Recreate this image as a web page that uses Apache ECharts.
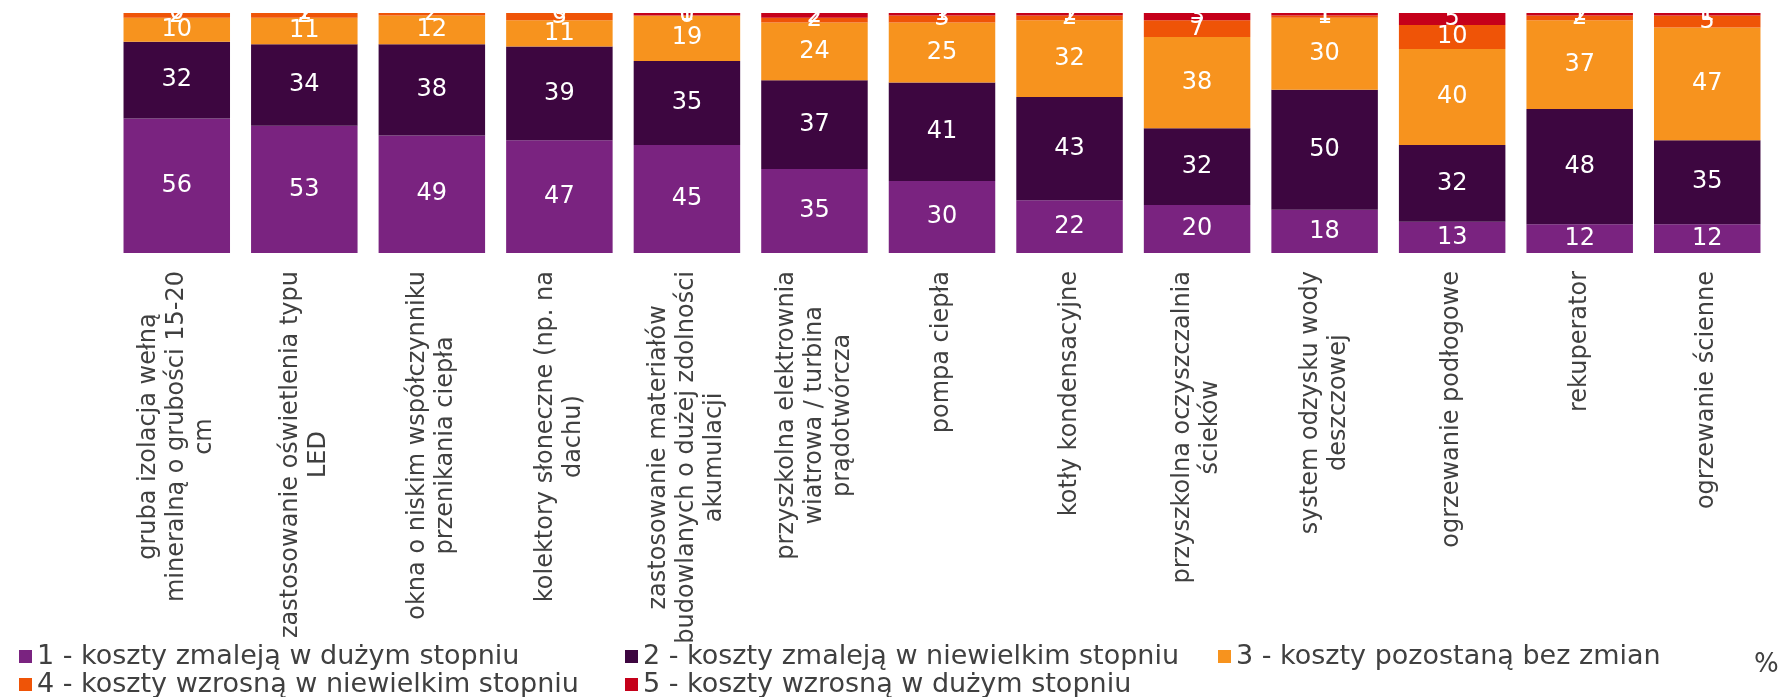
<!DOCTYPE html>
<html>
<head>
<meta charset="utf-8">
<title>koszty</title>
<script src="https://cdn.jsdelivr.net/npm/echarts@6/dist/echarts.min.js"></script>
<style>
    html, body { margin: 0; padding: 0; background: #fff; }
    #main { width: 1781px; height: 697px; }
</style>
</head>
<body>
<div id="main"></div>
<script>
// kategorie (osie X)
var categories = [
    'gruba izolacja wełną\nmineralną o grubości 15-20\ncm',
    'zastosowanie oświetlenia typu\nLED',
    'okna o niskim współczynniku\nprzenikania ciepła',
    'kolektory słoneczne (np. na\ndachu)',
    'zastosowanie materiałów\nbudowlanych o dużej zdolności\nakumulacji',
    'przyszkolna elektrownia\nwiatrowa / turbina\nprądotwórcza',
    'pompa ciepła',
    'kotły kondensacyjne',
    'przyszkolna oczyszczalnia\nścieków',
    'system odzysku wody\ndeszczowej',
    'ogrzewanie podłogowe',
    'rekuperator',
    'ogrzewanie ścienne'
];

var seriesNames = [
    '1 - koszty zmaleją w dużym stopniu',
    '2 - koszty zmaleją w niewielkim stopniu',
    '3 - koszty pozostaną bez zmian',
    '4 - koszty wzrosną w niewielkim stopniu',
    '5 - koszty wzrosną w dużym stopniu'
];

// wartości w %
var s1 = [56, 53, 49, 47, 45, 35, 30, 22, 20, 18, 13, 12, 12];
var s2 = [32, 34, 38, 39, 35, 37, 41, 43, 32, 50, 32, 48, 35];
var s3 = [10, 11, 12, 11, 19, 24, 25, 32, 38, 30, 40, 37, 47];
var s4 = [2, 2, 2, 3, 0, 2, 3, 2, 7, 1, 10, 2, 5];
var s5 = [0, 1, 0, 0, 1, 2, 1, 1, 3, 1, 5, 1, 1];

var colors = ['#7a2380', '#3d0640', '#f7931e', '#ef5407', '#c5001a'];
var FONT = 'DejaVu Sans';

var myChart = echarts.init(document.getElementById('main'));

function makeSeries(idx, data) {
    return {
        name: seriesNames[idx],
        type: 'bar',
        stack: 'all',
        barCategoryGap: '16.5%',
        data: data,
        itemStyle: { color: colors[idx] },
        label: {
            show: true,
            position: 'inside',
            color: '#fff',
            fontSize: 24,
            fontFamily: FONT
        }
    };
}

// osobna legenda dla każdej pozycji (kolumny nierówne)
var legendPos = [
    { left: 19, top: 643 },
    { left: 625, top: 643 },
    { left: 1218, top: 643 },
    { left: 19, top: 671 },
    { left: 625, top: 671 }
];
var legends = legendPos.map(function (p, i) {
    return {
        left: p.left,
        top: p.top,
        padding: 0,
        icon: 'rect',
        itemWidth: 13,
        itemHeight: 13,
        selectedMode: false,
        data: [seriesNames[i]],
        textStyle: { fontSize: 27, color: '#404040', fontFamily: FONT }
    };
});

myChart.setOption({
    animation: false,
    color: colors,
    title: {
        text: '%',
        left: 1754,
        top: 652,
        padding: 0,
        textStyle: { fontSize: 26, fontWeight: 'normal', color: '#404040', fontFamily: FONT }
    },
    legend: legends,
    grid: { left: 113, right: 10, top: 13, bottom: 444 },
    xAxis: {
        type: 'category',
        data: categories,
        axisLine: { show: false },
        axisTick: { show: false },
        axisLabel: {
            interval: 0,
            rotate: 90,
            margin: 18,
            fontSize: 24,
            lineHeight: 28,
            color: '#404040',
            fontFamily: FONT,
            formatter: function (v) {
                return v.split('\n').map(function (s) { return '{c|' + s + '}'; }).join('\n');
            },
            rich: {
                c: { align: 'center', fontSize: 24, lineHeight: 28, color: '#404040', fontFamily: FONT }
            }
        }
    },
    yAxis: {
        type: 'value',
        min: 0,
        max: 100,
        show: false,
        splitLine: { show: false }
    },
    series: [
        makeSeries(0, s1),
        makeSeries(1, s2),
        makeSeries(2, s3),
        makeSeries(3, s4),
        makeSeries(4, s5)
    ]
});
</script>
</body>
</html>
